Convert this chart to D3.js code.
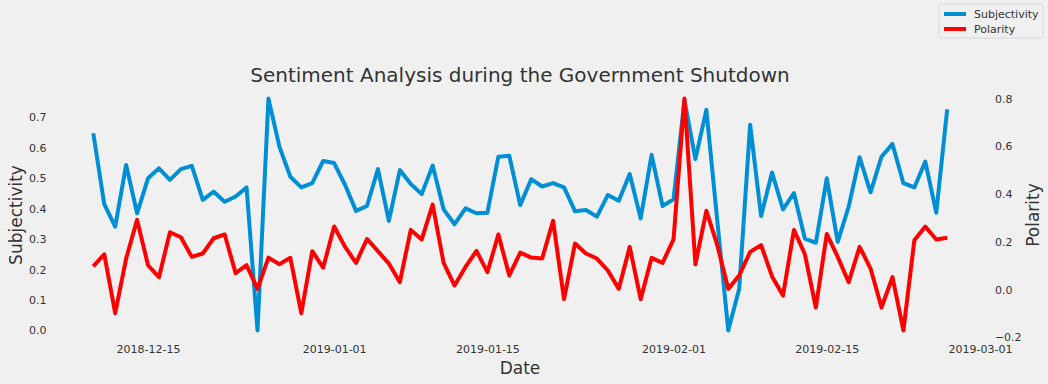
<!DOCTYPE html>
<html>
<head>
<meta charset="utf-8">
<script src="https://cdn.jsdelivr.net/npm/d3@7"></script>
<style>
  body { margin: 0; background: #f0f0f0; }
  svg { display: block; font-family: "DejaVu Sans", sans-serif; }
</style>
</head>
<body>
<div class="chart"></div>
<script>
var svgWidth = 1048;
var svgHeight = 384;

// daily values, 2018-12-10 .. 2019-02-26
var startDate = "2018-12-10";
var subjectivity = [0.648, 0.415, 0.341, 0.544, 0.385, 0.500, 0.533, 0.495, 0.530, 0.541,
  0.429, 0.456, 0.423, 0.440, 0.470, 0.000, 0.762, 0.604, 0.505, 0.470,
  0.484, 0.557, 0.550, 0.478, 0.393, 0.409, 0.530, 0.360, 0.527, 0.481,
  0.448, 0.542, 0.398, 0.349, 0.401, 0.385, 0.387, 0.571, 0.574, 0.412,
  0.497, 0.473, 0.484, 0.470, 0.392, 0.396, 0.374, 0.445, 0.426, 0.514,
  0.368, 0.577, 0.409, 0.431, 0.757, 0.563, 0.725, 0.360, 0.000, 0.137,
  0.676, 0.376, 0.519, 0.398, 0.451, 0.302, 0.288, 0.500, 0.291, 0.407,
  0.569, 0.454, 0.571, 0.613, 0.484, 0.470, 0.555, 0.387, 0.727];
var polarity = [0.097, 0.148, -0.099, 0.130, 0.292, 0.102, 0.052, 0.240, 0.219, 0.137,
  0.151, 0.215, 0.231, 0.069, 0.102, 0.003, 0.134, 0.106, 0.133, -0.099,
  0.161, 0.092, 0.264, 0.179, 0.112, 0.212, 0.161, 0.109, 0.031, 0.250,
  0.210, 0.356, 0.112, 0.017, 0.095, 0.162, 0.073, 0.231, 0.059, 0.155,
  0.134, 0.130, 0.288, -0.040, 0.193, 0.151, 0.130, 0.080, 0.003, 0.179,
  -0.040, 0.133, 0.112, 0.210, 0.800, 0.106, 0.330, 0.186, 0.003, 0.059,
  0.158, 0.186, 0.055, -0.025, 0.250, 0.148, -0.075, 0.233, 0.137, 0.031,
  0.179, 0.088, -0.075, 0.052, -0.171, 0.207, 0.264, 0.210, 0.217];
var xTickLabels = ["2018-12-15", "2019-01-01", "2019-01-15", "2019-02-01", "2019-02-15", "2019-03-01"];
var leftTicks = [0, 0.1, 0.2, 0.3, 0.4, 0.5, 0.6, 0.7];
var rightTicks = [-0.2, 0, 0.2, 0.4, 0.6, 0.8];

var parseDate = d3.timeParse("%Y-%m-%d");
var day0 = parseDate(startDate);
var dates = subjectivity.map((d, i) => d3.timeDay.offset(day0, i));

var plot = { left: 50.6, right: 989.9, top: 87, bottom: 342 };

// pad the domains by 5% like matplotlib does
function padded(lo, hi) {
  var m = (hi - lo) * 0.05;
  return [lo - m, hi + m];
}

var t0 = dates[0].getTime(), t1 = dates[dates.length - 1].getTime();
var xDom = padded(t0, t1);
var xScale = d3.scaleTime()
  .domain([new Date(xDom[0]), new Date(xDom[1])])
  .range([plot.left, plot.right]);

var yLeft = d3.scaleLinear()
  .domain(padded(d3.min(subjectivity), d3.max(subjectivity)))
  .range([plot.bottom, plot.top]);

var yRight = d3.scaleLinear()
  .domain(padded(d3.min(polarity), d3.max(polarity)))
  .range([plot.bottom, plot.top]);

var svg = d3.select(".chart")
  .append("svg")
  .attr("width", svgWidth)
  .attr("height", svgHeight);

svg.append("rect")
  .attr("width", svgWidth)
  .attr("height", svgHeight)
  .attr("fill", "#f0f0f0");

// axes without lines or tick marks
function styleAxis(g) {
  g.select(".domain").remove();
  g.selectAll(".tick line").remove();
  g.selectAll(".tick text")
    .attr("fill", "#333")
    .style("font-size", "11px")
    .style("font-family", "DejaVu Sans, sans-serif");
}

var bottomAxis = d3.axisBottom(xScale)
  .tickValues(xTickLabels.map(parseDate))
  .tickFormat(d3.timeFormat("%Y-%m-%d"))
  .tickPadding(0);

svg.append("g")
  .attr("transform", `translate(0, ${plot.bottom})`)
  .call(bottomAxis)
  .call(styleAxis)
  .selectAll(".tick text").attr("y", 3);

svg.append("g")
  .attr("transform", `translate(${plot.left}, 0)`)
  .call(d3.axisLeft(yLeft).tickValues(leftTicks).tickFormat(d3.format(".1f")))
  .call(styleAxis)
  .selectAll(".tick text").attr("x", -4);

svg.append("g")
  .attr("transform", `translate(${plot.right}, 0)`)
  .call(d3.axisRight(yRight).tickValues(rightTicks).tickFormat(d => d3.format(".1f")(d).replace("-", "\u2212")))
  .call(styleAxis)
  .selectAll(".tick text").attr("x", 5);

var lineS = d3.line()
  .x((d, i) => xScale(dates[i]))
  .y(d => yLeft(d));

var lineP = d3.line()
  .x((d, i) => xScale(dates[i]))
  .y(d => yRight(d));

svg.append("path")
  .datum(subjectivity)
  .attr("d", lineS)
  .attr("fill", "none")
  .attr("stroke", "#008fd5")
  .attr("stroke-width", 4)
  .attr("stroke-linejoin", "round");

svg.append("path")
  .datum(polarity)
  .attr("d", lineP)
  .attr("fill", "none")
  .attr("stroke", "#ff0000")
  .attr("stroke-width", 4)
  .attr("stroke-linejoin", "round");

// title and axis labels
svg.append("text")
  .attr("x", 520)
  .attr("y", 82)
  .attr("text-anchor", "middle")
  .attr("fill", "#333")
  .style("font-size", "20px")
  .text("Sentiment Analysis during the Government Shutdown");

svg.append("text")
  .attr("x", 520)
  .attr("y", 374)
  .attr("text-anchor", "middle")
  .attr("fill", "#333")
  .style("font-size", "17px")
  .text("Date");

svg.append("text")
  .attr("transform", "rotate(-90)")
  .attr("x", -215)
  .attr("y", 22)
  .attr("text-anchor", "middle")
  .attr("fill", "#333")
  .style("font-size", "17px")
  .text("Subjectivity");

svg.append("text")
  .attr("transform", "rotate(-90)")
  .attr("x", -215)
  .attr("y", 1039)
  .attr("text-anchor", "middle")
  .attr("fill", "#333")
  .style("font-size", "17px")
  .text("Polarity");

// legend
var legend = svg.append("g").attr("transform", "translate(939, 4)");
legend.append("rect")
  .attr("width", 104)
  .attr("height", 34)
  .attr("rx", 2)
  .attr("fill", "#f0f0f0")
  .attr("stroke", "#d8d8d8");

var legendItems = [
  { name: "Subjectivity", color: "#008fd5" },
  { name: "Polarity", color: "#ff0000" }
];

legend.selectAll(".item")
  .data(legendItems)
  .enter()
  .append("g")
  .attr("transform", (d, i) => `translate(5, ${10 + i * 15})`)
  .each(function(d) {
    var g = d3.select(this);
    g.append("line")
      .attr("x1", 0).attr("x2", 22)
      .attr("stroke", d.color)
      .attr("stroke-width", 4);
    g.append("text")
      .attr("x", 30)
      .attr("y", 4)
      .attr("fill", "#333")
      .style("font-size", "11px")
      .text(d.name);
  });
</script>
</body>
</html>
